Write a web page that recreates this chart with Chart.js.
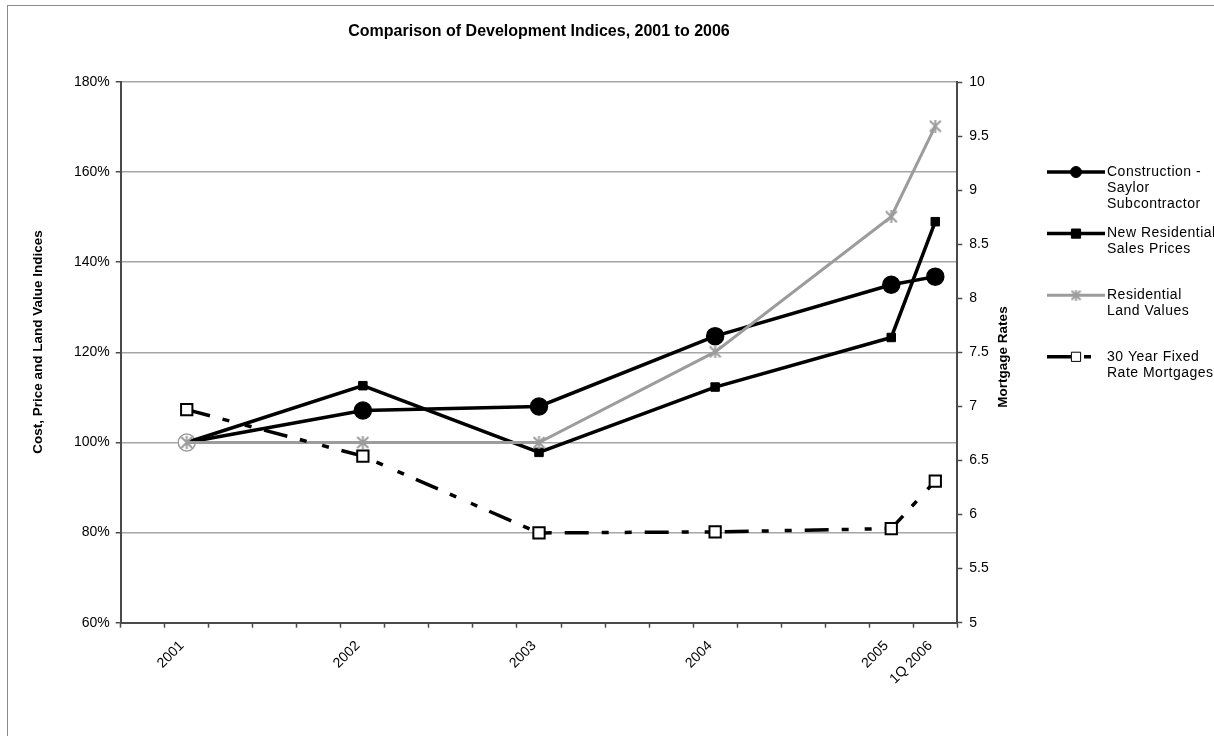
<!DOCTYPE html>
<html>
<head>
<meta charset="utf-8">
<title>Comparison of Development Indices, 2001 to 2006</title>
<script src="https://cdn.jsdelivr.net/npm/chart.js@4.4.1/dist/chart.umd.min.js"></script>
<style>
  html, body { margin: 0; padding: 0; background: #fff; }
  #wrap { position: relative; width: 1214px; height: 736px; overflow: hidden; }
  #devChart { display: block; }
  /* outer chart frame, only the top and left edges are in view */
  #frame {
    position: absolute; left: 7px; top: 5px; width: 1300px; height: 800px;
    border-left: 1.5px solid #8a8a8a; border-top: 1.5px solid #8a8a8a;
    pointer-events: none;
  }
</style>
</head>
<body>
<div id="wrap">
  <canvas id="devChart" width="1214" height="736"></canvas>
  <div id="frame"></div>
</div>
<script>
const periods = ['2001', '2002', '2003', '2004', '2005', '1Q 2006'];
// axis runs in quarters; each period sits in one quarter slot
const quarterSlots = [1, 5, 9, 13, 17, 18];
const slotCount = 19;

const construction = [100, 107.1, 108.0, 123.6, 135.0, 136.8];
const newSalesPrices = [100, 112.6, 97.8, 112.3, 123.3, 149.0];
const landValues = [100, 100, 100, 120.1, 150.1, 170.2];
const mortgageRates = [6.97, 6.54, 5.83, 5.84, 5.87, 6.31];

const legendLines = [
  ['Construction -', 'Saylor', 'Subcontractor'],
  ['New Residential', 'Sales Prices'],
  ['Residential', 'Land Values'],
  ['30 Year Fixed', 'Rate Mortgages']
];

const FONT = '"Liberation Sans", Arial, sans-serif';
const AXIS = '#4a4a4a';
const GRID = '#a6a6a6';
const LAND = '#9c9c9c';

const slotLabels = Array.from({ length: slotCount }, (_, i) => {
  const k = quarterSlots.indexOf(i);
  return k === -1 ? '' : periods[k];
});

function onSlots(values) {
  const out = new Array(slotCount).fill(null);
  quarterSlots.forEach((s, i) => { out[s] = values[i]; });
  return out;
}

// six-armed asterisk marker used for the land values series
function asteriskMarker(size, color) {
  const c = document.createElement('canvas');
  c.width = size;
  c.height = size;
  const g = c.getContext('2d');
  g.strokeStyle = color;
  g.lineWidth = 2;
  g.beginPath();
  g.moveTo(1, 1); g.lineTo(size - 1, size - 1);
  g.moveTo(size - 1, 1); g.lineTo(1, size - 1);
  g.moveTo(size / 2, 0); g.lineTo(size / 2, size);
  g.stroke();
  return c;
}

const firstSlot = quarterSlots[0];
const landMarker = asteriskMarker(13, LAND);
const landLegendMarker = asteriskMarker(11, LAND);

const data = {
  labels: slotLabels,
  datasets: [
    {
      label: legendLines[0].join(' '),
      data: onSlots(construction),
      yAxisID: 'y',
      borderColor: '#000',
      backgroundColor: '#000',
      borderWidth: 3.5,
      pointStyle: 'circle',
      pointRadius: 8.5,
      pointBackgroundColor: c => c.dataIndex === firstSlot ? '#fff' : '#000',
      pointBorderColor: c => c.dataIndex === firstSlot ? LAND : '#000',
      pointBorderWidth: 1.5,
      spanGaps: true,
      tension: 0,
      order: 4
    },
    {
      label: legendLines[1].join(' '),
      data: onSlots(newSalesPrices),
      yAxisID: 'y',
      borderColor: '#000',
      backgroundColor: '#000',
      borderWidth: 3.5,
      pointStyle: 'rect',
      pointRadius: c => c.dataIndex === firstSlot ? 0 : 6,
      pointBorderWidth: 1,
      spanGaps: true,
      tension: 0,
      order: 3
    },
    {
      label: legendLines[2].join(' '),
      data: onSlots(landValues),
      yAxisID: 'y',
      borderColor: LAND,
      backgroundColor: LAND,
      borderWidth: 3,
      pointStyle: landMarker,
      pointRadius: 6,
      spanGaps: true,
      tension: 0,
      order: 2
    },
    {
      label: legendLines[3].join(' '),
      data: onSlots(mortgageRates),
      yAxisID: 'y1',
      borderColor: '#000',
      backgroundColor: '#fff',
      borderWidth: 3.5,
      borderDash: [24, 13, 7, 16, 7, 13],
      pointStyle: 'rect',
      pointRadius: 8,
      pointBackgroundColor: '#fff',
      pointBorderColor: '#000',
      pointBorderWidth: 2,
      spanGaps: true,
      tension: 0,
      order: 1
    }
  ]
};

// legend marker sizes, smaller than the plotted markers
const legendMarkers = [
  { pointStyle: 'circle', radius: 5.5, fill: '#000' },
  { pointStyle: 'rect', radius: 6.5, fill: '#000' },
  { pointStyle: landLegendMarker, radius: 5, fill: LAND },
  { pointStyle: 'rect', radius: 6.5, fill: '#fff' }
];

const sideText = {
  id: 'sideText',
  afterDraw(chart) {
    const { ctx, chartArea, scales } = chart;
    ctx.save();
    ctx.fillStyle = '#000';
    ctx.textAlign = 'center';
    ctx.textBaseline = 'middle';
    ctx.font = 'bold 13.5px ' + FONT;

    // axis titles, both read bottom to top
    ctx.save();
    ctx.translate(scales.y.left + 38, chartArea.top + 260);
    ctx.rotate(-Math.PI / 2);
    ctx.fillText('Cost, Price and Land Value Indices', 0, 0);
    ctx.restore();

    ctx.save();
    ctx.translate(scales.y1.left + 46, chartArea.top + 275);
    ctx.rotate(-Math.PI / 2);
    ctx.fillText('Mortgage Rates', 0, 0);
    ctx.restore();

    // legend
    const x0 = chartArea.right + 89.7;
    const y0 = chartArea.top + 90;
    const step = 61.6;
    const lineH = 16;
    ctx.textAlign = 'left';
    ctx.font = '14px ' + FONT;
    chart.data.datasets.forEach((ds, i) => {
      const y = y0 + i * step;
      ctx.save();
      ctx.strokeStyle = ds.borderColor;
      ctx.lineWidth = ds.borderWidth;
      ctx.setLineDash(ds.borderDash || []);
      ctx.beginPath();
      ctx.moveTo(x0, y);
      ctx.lineTo(x0 + 58, y);
      ctx.stroke();
      ctx.restore();

      const m = legendMarkers[i];
      ctx.save();
      ctx.fillStyle = m.fill;
      ctx.strokeStyle = ds.borderColor;
      Chart.helpers.drawPoint(ctx, {
        pointStyle: m.pointStyle, radius: m.radius, rotation: 0,
        borderWidth: i === 3 ? 2 : 1
      }, x0 + 29, y);
      ctx.restore();

      ctx.save();
      ctx.letterSpacing = '0.5px';
      legendLines[i].forEach((t, k) => ctx.fillText(t, x0 + 60, y + k * lineH));
      ctx.restore();
    });
    ctx.restore();
  }
};

const config = {
  type: 'line',
  data: data,
  options: {
    responsive: false,
    animation: false,
    layout: { padding: { left: 0, right: 196.7, top: 0, bottom: 0 } },
    plugins: {
      legend: { display: false },
      tooltip: { enabled: false },
      title: {
        display: true,
        fullSize: false,
        text: 'Comparison of Development Indices, 2001 to 2006',
        color: '#000',
        font: { size: 16, weight: 'bold' },
        padding: { top: 22.4, bottom: 40.4 }
      }
    },
    scales: {
      x: {
        type: 'category',
        offset: true,
        grid: {
          offset: true,
          drawOnChartArea: false,
          tickLength: 5,
          tickColor: AXIS,
          tickWidth: 1.5
        },
        border: { color: AXIS, width: 2 },
        ticks: {
          autoSkip: false,
          minRotation: 45,
          maxRotation: 45,
          padding: 10,
          labelOffset: -5,
          color: '#000',
          font: { size: 14 }
        },
        afterFit: s => { s.height = 113.3; }
      },
      y: {
        position: 'left',
        min: 60,
        max: 180,
        ticks: {
          stepSize: 20,
          padding: 6,
          color: '#000',
          font: { size: 14 },
          callback: v => v + '%'
        },
        grid: {
          color: GRID,
          lineWidth: 1.5,
          tickColor: AXIS,
          tickLength: 5
        },
        border: { color: AXIS, width: 2 },
        afterFit: s => { s.width = 120.7; }
      },
      y1: {
        position: 'right',
        min: 5,
        max: 10,
        ticks: {
          stepSize: 0.5,
          padding: 7,
          color: '#000',
          font: { size: 14 },
          callback: v => String(v)
        },
        grid: {
          drawOnChartArea: false,
          tickColor: AXIS,
          tickLength: 5,
          tickWidth: 1.5
        },
        border: { color: AXIS, width: 2 },
        afterFit: s => { s.width = 60; }
      }
    }
  },
  plugins: [sideText]
};

Chart.defaults.font.family = FONT;
const devChart = new Chart(document.getElementById('devChart').getContext('2d'), config);
</script>
</body>
</html>
